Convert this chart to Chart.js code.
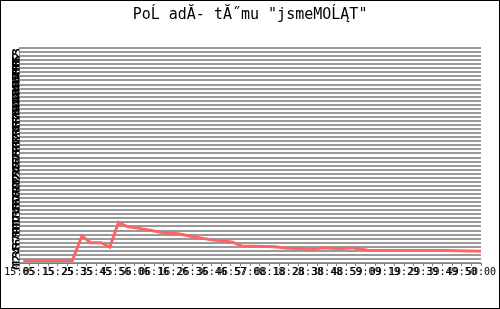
<!DOCTYPE html>
<html lang="cs">
<head>
    <meta charset="UTF-8">
    <title>Pořadí týmu</title>
    <script src="https://cdn.jsdelivr.net/npm/chart.js"></script>
    <style>
        html, body { margin: 0; padding: 0; background: #fff; }
        #wrap { width: 500px; height: 309px; position: relative; }
    </style>
</head>
<body>
    <div id="wrap">
        <canvas id="rankChart" width="500" height="309"></canvas>
    </div>

    <script>
        // chart title (kept as shown, including the broken encoding)
        const chartTitle = 'PoĹ adĂ- tĂ˝mu "jsmeMOĹĄT"';

        // x tick labels, one every second tick
        const timeParts = ['15', '05', '15', '25', '35', '45', '56', '06', '16', '26', '36', '46', '57',
                           '08', '18', '28', '38', '48', '59', '09', '19', '29', '39', '49', '50', '00'];

        // series: position along the time axis (tick units) and value
        const timeX = [0.4, 5.5, 6.5, 7.4, 8.5, 9.4, 10.3, 11.2, 12.3, 13.3, 14.7, 15.6, 16.5, 18.2, 20.0,
                       22.1, 23.1, 26.6, 27.6, 30.6, 31.5, 33.5, 34.5, 36.4, 44.3, 48.0];
        const rankY = [0.6, 0.6, 6.7, 5.0, 5.0, 3.9, 10.0, 9.0, 8.6, 8.2, 7.6, 7.4, 7.2, 6.4, 5.7,
                       5.2, 4.2, 4.0, 3.7, 3.4, 3.75, 3.5, 3.75, 3.1, 3.1, 2.9];

        const yMax = 53;

        const points = timeX.map((x, i) => ({ x: x, y: rankY[i] }));

        // black frame round the whole picture
        const framePlugin = {
            id: 'frame',
            afterDraw(chart) {
                const c = chart.ctx;
                c.save();
                c.strokeStyle = '#000';
                c.lineWidth = 1;
                c.strokeRect(0.5, 0.5, chart.width - 1, chart.height - 1);
                c.restore();
            }
        };

        const ctx = document.getElementById('rankChart').getContext('2d');
        new Chart(ctx, {
            type: 'line',
            data: {
                datasets: [{
                    data: points,
                    borderColor: '#ff6464',
                    borderWidth: 3,
                    pointRadius: 0,
                    tension: 0,
                    fill: false
                }]
            },
            options: {
                responsive: false,
                animation: false,
                devicePixelRatio: 1,
                layout: { padding: { left: 1, right: 19, top: 0, bottom: 31 } },
                plugins: {
                    legend: { display: false },
                    tooltip: { enabled: false },
                    title: {
                        display: true,
                        text: '  ' + chartTitle,
                        color: '#000',
                        font: { family: 'DejaVu Sans Mono', size: 15, weight: 'normal' },
                        padding: { top: 6, bottom: 24 }
                    }
                },
                scales: {
                    x: {
                        type: 'linear',
                        min: 0,
                        max: 48,
                        border: { color: '#808080' },
                        grid: { drawOnChartArea: false, color: '#808080', tickLength: 3 },
                        ticks: {
                            stepSize: 1,
                            autoSkip: false,
                            maxRotation: 0,
                            padding: 0,
                            color: '#000',
                            font: { family: 'DejaVu Sans Mono', size: 10 },
                            callback: function (v) {
                                if (v % 2 !== 0) return '';
                                const j = v / 2;
                                if (j >= timeParts.length - 1) return '';
                                return timeParts[j] + ':' + timeParts[j + 1];
                            }
                        }
                    },
                    y: {
                        min: 0,
                        max: yMax,
                        border: { display: false },
                        grid: { color: '#9a9a9a', lineWidth: 2, drawTicks: false },
                        ticks: {
                            stepSize: 1,
                            maxTicksLimit: 200,
                            autoSkip: false,
                            minRotation: 90,
                            maxRotation: 90,
                            padding: 2,
                            color: '#000',
                            font: { family: 'DejaVu Sans Mono', size: 12, weight: 'bold' }
                        }
                    }
                }
            },
            plugins: [framePlugin]
        });
    </script>
</body>
</html>
